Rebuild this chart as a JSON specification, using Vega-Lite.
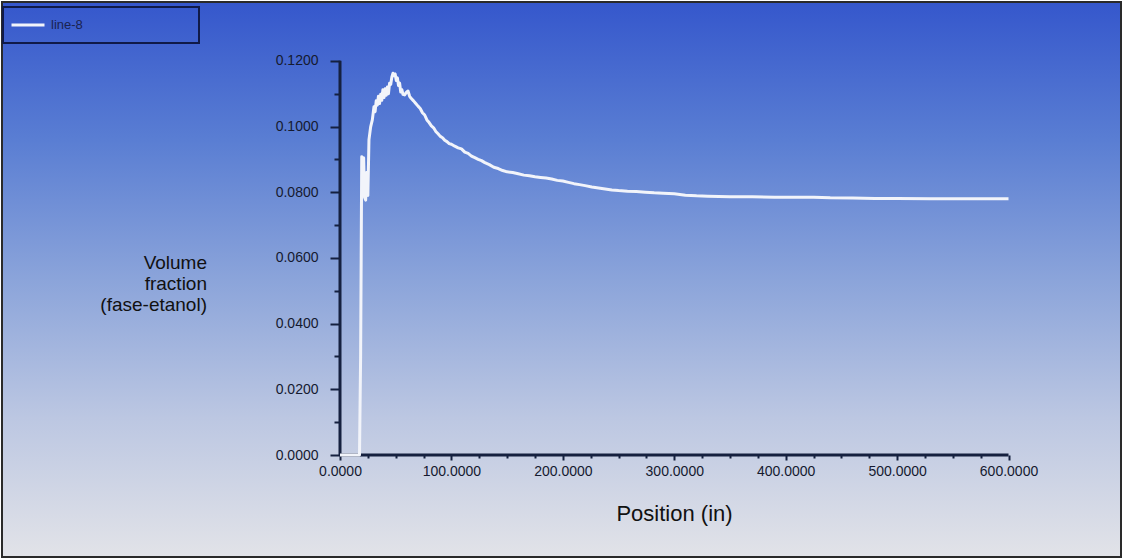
{
  "$schema": "https://vega.github.io/schema/vega-lite/v6.json",
  "width": 1119,
  "height": 555,
  "padding": 2,
  "autosize": {"type": "none"},
  "background": "#ffffff",
  "config": {
    "font": "Liberation Sans",
    "view": {
      "fill": {
        "gradient": "linear",
        "x1": 0, "y1": 0, "x2": 0, "y2": 1,
        "stops": [
          {"offset": 0, "color": "#3557cc"},
          {"offset": 0.25, "color": "#5a7ed3"},
          {"offset": 0.5, "color": "#8ba4da"},
          {"offset": 0.75, "color": "#bcc7e2"},
          {"offset": 1, "color": "#e2e3e8"}
        ]
      },
      "stroke": "#2a2a2a",
      "strokeWidth": 2
    },
    "legend": {"strokeColor": "#101a48", "strokeWidth": 2, "padding": 0}
  },
  "layer": [
    {
      "data": {"values": [{}]},
      "mark": {"type": "rule", "color": "#15203f", "strokeWidth": 3},
      "encoding": {
        "x": {"datum": 0, "type": "quantitative", "scale": {"domain": [-303.37, 700.96], "nice": false, "zero": false}},
        "x2": {"datum": 600},
        "y": {"datum": 0, "type": "quantitative", "scale": {"domain": [-0.03105, 0.1379], "nice": false, "zero": false}}
      }
    },
    {
      "data": {"values": [{}]},
      "mark": {"type": "rule", "color": "#15203f", "strokeWidth": 3},
      "encoding": {
        "x": {"datum": 0, "type": "quantitative", "scale": {"domain": [-303.37, 700.96], "nice": false, "zero": false}},
        "y": {"datum": 0, "type": "quantitative", "scale": {"domain": [-0.03105, 0.1379], "nice": false, "zero": false}},
        "y2": {"datum": 0.12}
      }
    },
    {
      "data": {
        "values": [
          {"position": 0, "fraction": 0},
          {"position": 17.5, "fraction": 0},
          {"position": 18.5, "fraction": 0.03},
          {"position": 19.5, "fraction": 0.0908},
          {"position": 20.5, "fraction": 0.083},
          {"position": 21.2, "fraction": 0.0905},
          {"position": 22.0, "fraction": 0.0785},
          {"position": 23.0, "fraction": 0.0776},
          {"position": 24.0, "fraction": 0.086},
          {"position": 25.0, "fraction": 0.079},
          {"position": 26.0, "fraction": 0.096},
          {"position": 27.5, "fraction": 0.0999},
          {"position": 29.0, "fraction": 0.102},
          {"position": 30.5, "fraction": 0.106},
          {"position": 31.5, "fraction": 0.1045},
          {"position": 32.5, "fraction": 0.1078},
          {"position": 33.5, "fraction": 0.1065},
          {"position": 34.5, "fraction": 0.1092},
          {"position": 35.5, "fraction": 0.107},
          {"position": 36.5, "fraction": 0.1098},
          {"position": 37.5, "fraction": 0.108},
          {"position": 38.5, "fraction": 0.1112},
          {"position": 39.5, "fraction": 0.1088},
          {"position": 40.5, "fraction": 0.1115},
          {"position": 41.5, "fraction": 0.1095},
          {"position": 42.5, "fraction": 0.112},
          {"position": 43.5, "fraction": 0.11},
          {"position": 44.5, "fraction": 0.1132},
          {"position": 45.5, "fraction": 0.1128},
          {"position": 46.5, "fraction": 0.115},
          {"position": 47.5, "fraction": 0.1162},
          {"position": 48.5, "fraction": 0.1155},
          {"position": 49.5, "fraction": 0.116},
          {"position": 50.5, "fraction": 0.114},
          {"position": 51.5, "fraction": 0.1148},
          {"position": 52.5, "fraction": 0.1125},
          {"position": 53.5, "fraction": 0.1132},
          {"position": 54.5, "fraction": 0.1105},
          {"position": 55.5, "fraction": 0.1112},
          {"position": 56.5, "fraction": 0.1098},
          {"position": 58.0, "fraction": 0.1096},
          {"position": 59.5, "fraction": 0.1104},
          {"position": 61.0, "fraction": 0.1108},
          {"position": 62.5, "fraction": 0.1092},
          {"position": 64.0, "fraction": 0.1085},
          {"position": 66.0, "fraction": 0.1078},
          {"position": 68.0, "fraction": 0.107},
          {"position": 70.0, "fraction": 0.1062},
          {"position": 72.0, "fraction": 0.1055},
          {"position": 74.0, "fraction": 0.1042},
          {"position": 76.0, "fraction": 0.1035},
          {"position": 78.0, "fraction": 0.102},
          {"position": 80.0, "fraction": 0.1012},
          {"position": 82.0, "fraction": 0.1002},
          {"position": 84.0, "fraction": 0.0996},
          {"position": 86.0, "fraction": 0.0985},
          {"position": 88.0, "fraction": 0.0978},
          {"position": 90.0, "fraction": 0.097},
          {"position": 92.0, "fraction": 0.0966},
          {"position": 94.0, "fraction": 0.0958},
          {"position": 96.0, "fraction": 0.0954},
          {"position": 98.0, "fraction": 0.0948},
          {"position": 100.0, "fraction": 0.0946},
          {"position": 103, "fraction": 0.094},
          {"position": 106, "fraction": 0.0935},
          {"position": 109, "fraction": 0.0932},
          {"position": 112, "fraction": 0.0922},
          {"position": 115, "fraction": 0.0918},
          {"position": 118, "fraction": 0.091},
          {"position": 121, "fraction": 0.0905},
          {"position": 124, "fraction": 0.09},
          {"position": 127, "fraction": 0.0896},
          {"position": 130, "fraction": 0.089},
          {"position": 134, "fraction": 0.0884},
          {"position": 138, "fraction": 0.0876},
          {"position": 142, "fraction": 0.0872},
          {"position": 146, "fraction": 0.0866},
          {"position": 150, "fraction": 0.0862},
          {"position": 155, "fraction": 0.086},
          {"position": 160, "fraction": 0.0856},
          {"position": 165, "fraction": 0.0852},
          {"position": 170, "fraction": 0.085},
          {"position": 175, "fraction": 0.0847},
          {"position": 180, "fraction": 0.0845},
          {"position": 185, "fraction": 0.0843},
          {"position": 190, "fraction": 0.084},
          {"position": 195, "fraction": 0.0836},
          {"position": 200, "fraction": 0.0834},
          {"position": 205, "fraction": 0.083},
          {"position": 210, "fraction": 0.0826},
          {"position": 215, "fraction": 0.0823},
          {"position": 220, "fraction": 0.082},
          {"position": 226, "fraction": 0.0816},
          {"position": 232, "fraction": 0.0813},
          {"position": 238, "fraction": 0.081},
          {"position": 244, "fraction": 0.0807},
          {"position": 250, "fraction": 0.0805},
          {"position": 258, "fraction": 0.0803},
          {"position": 266, "fraction": 0.0802},
          {"position": 274, "fraction": 0.08},
          {"position": 282, "fraction": 0.0798},
          {"position": 290, "fraction": 0.0797},
          {"position": 300, "fraction": 0.0795},
          {"position": 310, "fraction": 0.0791},
          {"position": 320, "fraction": 0.0789},
          {"position": 330, "fraction": 0.0788},
          {"position": 340, "fraction": 0.0787},
          {"position": 350, "fraction": 0.0786},
          {"position": 370, "fraction": 0.0786},
          {"position": 390, "fraction": 0.0785},
          {"position": 410, "fraction": 0.0785},
          {"position": 425, "fraction": 0.0785},
          {"position": 440, "fraction": 0.0783},
          {"position": 460, "fraction": 0.0782},
          {"position": 480, "fraction": 0.0781},
          {"position": 500, "fraction": 0.0781},
          {"position": 530, "fraction": 0.078},
          {"position": 560, "fraction": 0.078},
          {"position": 600, "fraction": 0.078}
        ]
      },
      "mark": {"type": "line", "strokeWidth": 3, "strokeJoin": "round"},
      "encoding": {
        "x": {
          "field": "position",
          "type": "quantitative",
          "scale": {"domain": [-303.37, 700.96], "nice": false, "zero": false},
          "axis": {
            "title": "Position (in)",
            "orient": "bottom",
            "offset": -102,
            "grid": false,
            "domain": false,
            "values": [0, 25, 50, 75, 100, 125, 150, 175, 200, 225, 250, 275, 300, 325, 350, 375, 400, 425, 450, 475, 500, 525, 550, 575, 600],
            "labelExpr": "datum.value % 100 === 0 ? format(datum.value, '.4f') : ''",
            "labelOverlap": false,
            "labelFlush": false,
            "labelFontSize": 14,
            "labelColor": "#151a30",
            "labelPadding": 4,
            "tickColor": "#15203f",
            "tickWidth": 2,
            "tickSize": {"condition": {"test": "datum.value % 100 === 0", "value": 5}, "value": 3},
            "titleFontSize": 22,
            "titleFontWeight": "normal",
            "titleColor": "#111111",
            "titleAlign": "center",
            "titleBaseline": "alphabetic",
            "titleX": 672,
            "titleY": 65
          }
        },
        "y": {
          "field": "fraction",
          "type": "quantitative",
          "scale": {"domain": [-0.03105, 0.1379], "nice": false, "zero": false},
          "axis": {
            "title": ["Volume", "fraction", "(fase-etanol)"],
            "orient": "left",
            "offset": -338,
            "grid": false,
            "domain": false,
            "values": [0, 0.01, 0.02, 0.03, 0.04, 0.05, 0.06, 0.07, 0.08, 0.09, 0.1, 0.11, 0.12],
            "labelExpr": "round(datum.value * 100) % 2 === 0 ? format(datum.value, '.4f') : ''",
            "labelOverlap": false,
            "labelFlush": false,
            "labelFontSize": 14,
            "labelColor": "#151a30",
            "labelPadding": 12,
            "tickColor": "#15203f",
            "tickWidth": 2,
            "tickSize": {"condition": {"test": "round(datum.value * 100) % 2 === 0", "value": 10}, "value": 6},
            "titleFontSize": 19,
            "titleFontWeight": "normal",
            "titleColor": "#111111",
            "titleAngle": 0,
            "titleAlign": "right",
            "titleBaseline": "alphabetic",
            "titleLineHeight": 21,
            "titleX": -133.5,
            "titleY": 266
          }
        },
        "color": {
          "datum": "line-8",
          "type": "nominal",
          "scale": {"range": ["#f2f4fa"]},
          "legend": {
            "orient": "none",
            "legendX": 1,
            "legendY": 5,
            "title": "\u00a0",
            "titleOrient": "right",
            "titleFontSize": 23,
            "titleBaseline": "top",
            "titlePadding": 116,
            "padding": 0,
            "symbolType": "stroke",
            "symbolSize": 1089,
            "symbolStrokeWidth": 3,
            "symbolOffset": 7,
            "labelOffset": 5,
            "labelFontSize": 13,
            "labelColor": "#1a2350"
          }
        }
      }
    }
  ]
}
